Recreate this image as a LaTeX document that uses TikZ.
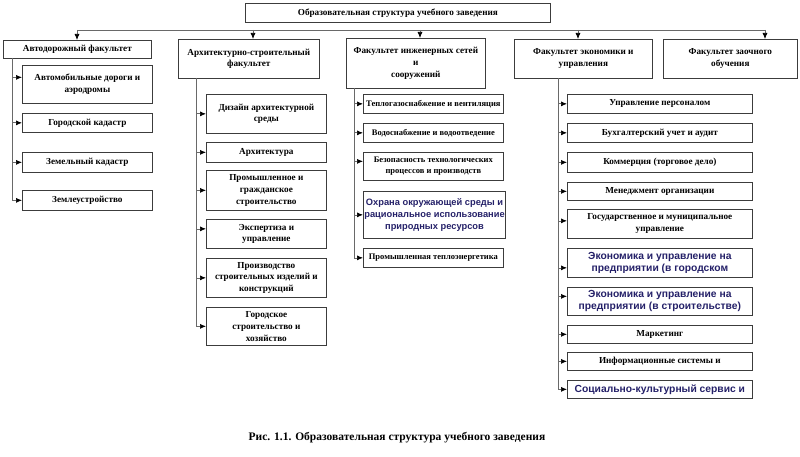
\documentclass[tikz,border=0pt]{standalone}
\usepackage{fontspec}
\setmainfont{Liberation Serif}
\newfontfamily\bluefont{Liberation Sans}
\usetikzlibrary{arrows.meta}
\definecolor{navy}{RGB}{36,32,104}
\definecolor{lnc}{RGB}{105,105,105}
\definecolor{bxc}{RGB}{60,60,60}
\begin{document}
\begin{tikzpicture}[x=1pt,y=-1pt,
  box/.style={draw=bxc, line width=0.7pt, anchor=north west, inner sep=1pt, align=center,
    font=\fontsize{9.2}{11.8}\selectfont\bfseries},
  boxsm/.style={box, font=\fontsize{8.5}{11.5}\selectfont\bfseries},
  sz/.style n args={2}{minimum width=#1, minimum height=#2},
  bluebox/.style={box, font=\fontsize{10.3}{12}\selectfont\bluefont\bfseries, text=navy},
  bluesm/.style={box, font=\fontsize{9.3}{12}\selectfont\bluefont\bfseries, text=navy},
  bluetext/.style={inner sep=0pt, align=center, font=\fontsize{10.3}{12}\selectfont\bluefont\bfseries, text=navy},
  conn/.style={draw=lnc, line width=0.7pt},
  arr/.style={conn, -{Latex[length=6pt,width=5pt,color=black]}},
]
\useasboundingbox (0,0) rectangle (800,457);

% title
\node[box, sz={305pt}{19pt}] (top) at (245,3) {Образовательная структура учебного заведения};

% faculties
\node[box, sz={148pt}{18pt}] (h1) at (3,40) {Автодорожный факультет};
\node[box, sz={141pt}{39pt}] (h2) at (178,39) {Архитектурно-строительный\\факультет};
\node[box, sz={139pt}{50pt}] (h3) at (346,38) {Факультет инженерных сетей\\и\\сооружений};
\node[box, sz={138pt}{39pt}] (h4) at (514,39) {Факультет экономики и\\управления};
\node[box, sz={134pt}{39pt}] (h5) at (663,39) {Факультет заочного\\обучения};

% bus
\coordinate (t1) at (77,30);
\coordinate (t2) at (253,30);
\coordinate (t3) at (420,30);
\coordinate (t4) at (578,30);
\coordinate (t5) at (765,30);
\draw[conn] (t1) -- (t5);
\draw[arr] (t1) -- (t1 |- h1.north);
\draw[arr] (t2) -- (t2 |- h2.north);
\draw[arr] (t3) -- (t3 |- h3.north);
\draw[arr] (t4) -- (t4 |- h4.north);
\draw[arr] (t5) -- (t5 |- h5.north);

% column 1
\node[box, sz={130pt}{38pt}] (s11) at (22,65) {Автомобильные дороги и\\аэродромы};
\node[box, sz={130pt}{19pt}] (s12) at (22,113) {Городской кадастр};
\node[box, sz={130pt}{20pt}] (s13) at (22,152) {Земельный кадастр};
\node[box, sz={130pt}{20pt}] (s14) at (22,190) {Землеустройство};
\coordinate (v1) at (12,58);
\coordinate (e11) at ([yshift=7pt]s11.west);
\draw[conn] (v1) -- (v1 |- s14.west);
\draw[arr] (v1 |- e11) -- (e11);
\draw[arr] (v1 |- s12.west) -- (s12.west);
\draw[arr] (v1 |- s13.west) -- (s13.west);
\draw[arr] (v1 |- s14.west) -- (s14.west);

% column 2
\node[box, sz={120pt}{39pt}] (s21) at (206,94) {Дизайн архитектурной\\среды};
\node[box, sz={120pt}{20pt}] (s22) at (206,142) {Архитектура};
\node[box, sz={120pt}{40pt}] (s23) at (206,170) {Промышленное и\\гражданское\\строительство};
\node[box, sz={120pt}{29pt}] (s24) at (206,219) {Экспертиза и\\управление};
\node[box, sz={120pt}{39pt}] (s25) at (206,258) {Производство\\строительных изделий и\\конструкций};
\node[box, sz={120pt}{38pt}] (s26) at (206,307) {Городское\\строительство и\\хозяйство};
\coordinate (v2) at (196,78);
\coordinate (e24) at ([yshift=5pt]s24.west);
\draw[conn] (v2) -- (v2 |- s26.west);
\draw[arr] (v2 |- s21.west) -- (s21.west);
\draw[arr] (v2 |- s22.west) -- (s22.west);
\draw[arr] (v2 |- s23.west) -- (s23.west);
\draw[arr] (v2 |- e24) -- (e24);
\draw[arr] (v2 |- s25.west) -- (s25.west);
\draw[arr] (v2 |- s26.west) -- (s26.west);

% column 3
\node[boxsm, sz={140pt}{19pt}] (s31) at (363,94) {Теплогазоснабжение и вентиляция};
\node[boxsm, sz={140pt}{19pt}] (s32) at (363,123) {Водоснабжение и водоотведение};
\node[boxsm, sz={140pt}{28pt}] (s33) at (363,152) {Безопасность технологических\\процессов и производств};
\node[bluesm, sz={140pt}{47pt}] (s34) at (363,191) {Охрана окружающей среды и\\рациональное использование\\природных ресурсов};
\node[boxsm, sz={140pt}{19pt}] (s35) at (363,248) {Промышленная теплоэнергетика};
\coordinate (v3) at (354,88);
\coordinate (e33) at ([yshift=5pt]s33.west);
\draw[conn] (v3) -- (v3 |- s35.west);
\draw[arr] (v3 |- s31.west) -- (s31.west);
\draw[arr] (v3 |- s32.west) -- (s32.west);
\draw[arr] (v3 |- e33) -- (e33);
\draw[arr] (v3 |- s34.west) -- (s34.west);
\draw[arr] (v3 |- s35.west) -- (s35.west);

% column 4
\node[box, sz={185pt}{19pt}] (s41) at (567,94) {Управление персоналом};
\node[box, sz={185pt}{19pt}] (s42) at (567,123) {Бухгалтерский учет и аудит};
\node[box, sz={185pt}{20pt}] (s43) at (567,152) {Коммерция (торговое дело)};
\node[box, sz={185pt}{18pt}] (s44) at (567,182) {Менеджмент организации};
\node[box, sz={185pt}{29pt}] (s45) at (567,209) {Государственное и муниципальное\\управление};
\node[box, sz={185pt}{29pt}] (s46) at (567,248) {};
\begin{scope}
  \clip (567,248) rectangle (752,272);
  \node[bluetext] (s46t) at (s46.center) {Экономика и управление на\\предприятии (в городском};
\end{scope}
\node[bluebox, sz={185pt}{28pt}] (s47) at (567,287) {Экономика и управление на\\предприятии (в строительстве)};
\node[box, sz={185pt}{18pt}] (s48) at (567,325) {Маркетинг};
\node[box, sz={185pt}{18pt}] (s49) at (567,352) {Информационные системы и};
\node[bluebox, sz={185pt}{18pt}] (s410) at (567,380) {Социально-культурный сервис и};
\coordinate (v4) at (558,78);
\coordinate (e45) at ([yshift=3pt]s45.west);
\coordinate (e46) at ([yshift=-5pt]s46.west);
\coordinate (e47) at ([yshift=5pt]s47.west);
\draw[conn] (v4) -- (v4 |- s410.west);
\draw[arr] (v4 |- s41.west) -- (s41.west);
\draw[arr] (v4 |- s42.west) -- (s42.west);
\draw[arr] (v4 |- s43.west) -- (s43.west);
\draw[arr] (v4 |- s44.west) -- (s44.west);
\draw[arr] (v4 |- e45) -- (e45);
\draw[arr] (v4 |- e46) -- (e46);
\draw[arr] (v4 |- e47) -- (e47);
\draw[arr] (v4 |- s48.west) -- (s48.west);
\draw[arr] (v4 |- s49.west) -- (s49.west);
\draw[arr] (v4 |- s410.west) -- (s410.west);

% caption
\node[font=\fontsize{11.5}{13}\selectfont\bfseries, inner sep=0pt] (cap) at (397,438) {Рис. 1.1. Образовательная структура учебного заведения};
\end{tikzpicture}
\end{document}
